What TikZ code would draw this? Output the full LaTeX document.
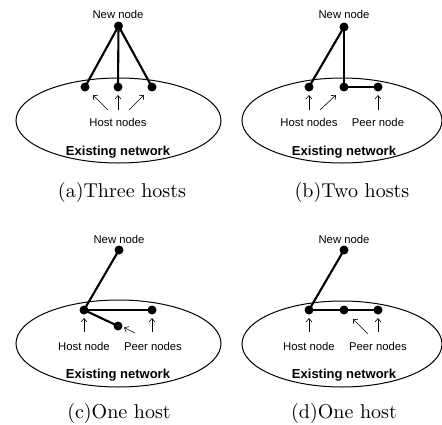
\documentclass[tikz,border=0pt]{standalone}
\usepackage{fontspec}
\setsansfont{Liberation Sans}
\newfontfamily\capfont{lmroman10-regular}[Extension=.otf]
\usetikzlibrary{arrows.meta}
\begin{document}
\begin{tikzpicture}[x=1pt,y=-1pt,
  dot/.style={circle,fill=black,inner sep=0pt,minimum size=9pt},
  link/.style={line width=2.1pt},
  net/.style={line width=1pt,black},
  lab/.style={font=\sffamily\fontsize{11.3}{13}\selectfont,inner sep=0pt},
  netlab/.style={font=\sffamily\bfseries\fontsize{13}{15}\selectfont,inner sep=0pt},
  captext/.style={font=\capfont\fontsize{20}{24}\selectfont,inner sep=0pt},
  ptr/.style={-{Straight Barb[length=3.5pt,width=6pt]},line width=0.6pt}]
\useasboundingbox (0,0) rectangle (442,424);

% ---------- (a) ----------
\draw[net] (118.5,120.5) ellipse [x radius=102.5, y radius=42.5];
\node[lab] (atxt) at (118,14) {New node};
\node[dot] (an) at (118.5,26) {};
\node[dot] (ah1) at (85,87) {};
\node[dot] (ah2) at (118,87) {};
\node[dot] (ah3) at (152,87) {};
\draw[link] (an.center) -- (ah1.center);
\draw[link] (an.center) -- (ah2.center);
\draw[link] (an.center) -- (ah3.center);
\coordinate (aa1s) at (108,110); \coordinate (aa1e) at (93,95);
\coordinate (aa2s) at (118,110); \coordinate (aa2e) at (118,95);
\coordinate (aa3s) at (129,110); \coordinate (aa3e) at (144,95);
\draw[ptr] (aa1s) -- (aa1e);
\draw[ptr] (aa2s) -- (aa2e);
\draw[ptr] (aa3s) -- (aa3e);
\node[lab] (ahl) at (118,122) {Host nodes};
\node[netlab] (anet) at (118,152) {Existing network};
\node[captext] (acap) at (122,192) {(a)Three hosts};

% ---------- (b) ----------
\draw[net] (342,120.5) ellipse [x radius=100, y radius=42.5];
\node[lab] (btxt) at (344,14) {New node};
\node[dot] (bn) at (344,27) {};
\node[dot] (bh1) at (309,87) {};
\node[dot] (bh2) at (344,87) {};
\node[dot] (bp) at (378,87) {};
\draw[link] (bn.center) -- (bh1.center);
\draw[link] (bn.center) -- (bh2.center);
\draw[link] (bh2.center) -- (bp.center);
\coordinate (ba1s) at (309,110); \coordinate (ba1e) at (309,95);
\coordinate (ba2s) at (320,110); \coordinate (ba2e) at (336,95);
\coordinate (ba3s) at (378,110); \coordinate (ba3e) at (378,95);
\draw[ptr] (ba1s) -- (ba1e);
\draw[ptr] (ba2s) -- (ba2e);
\draw[ptr] (ba3s) -- (ba3e);
\node[lab] (bhl) at (309,122) {Host nodes};
\node[lab] (bpl) at (378,122) {Peer node};
\node[netlab] (bnet) at (344,152) {Existing network};
\node[captext] (bcap) at (352,192) {(b)Two hosts};

% ---------- (c) ----------
\draw[net] (118.5,343.5) ellipse [x radius=102.5, y radius=43.5];
\node[lab] (ctxt) at (119,239) {New node};
\node[dot] (cn) at (119,250) {};
\node[dot] (ch) at (84,310) {};
\node[dot] (cp1) at (118,326) {};
\node[dot] (cp2) at (152,310) {};
\draw[link] (cn.center) -- (ch.center);
\draw[link] (ch.center) -- (cp2.center);
\draw[link] (ch.center) -- (cp1.center);
\coordinate (ca1s) at (84,332); \coordinate (ca1e) at (84,318);
\coordinate (ca2s) at (135,333); \coordinate (ca2e) at (124,327.5);
\coordinate (ca3s) at (152,332); \coordinate (ca3e) at (152,318);
\draw[ptr] (ca1s) -- (ca1e);
\draw[ptr] (ca2s) -- (ca2e);
\draw[ptr] (ca3s) -- (ca3e);
\node[lab] (chl) at (84,346) {Host node};
\node[lab] (cpl) at (153,346) {Peer nodes};
\node[netlab] (cnet) at (118,375) {Existing network};
\node[captext] (ccap) at (119,413) {(c)One host};

% ---------- (d) ----------
\draw[net] (342,344) ellipse [x radius=100, y radius=43];
\node[lab] (dtxt) at (344,239) {New node};
\node[dot] (dn) at (344,250) {};
\node[dot] (dh) at (309,310) {};
\node[dot] (dp1) at (344,310) {};
\node[dot] (dp2) at (378,310) {};
\draw[link] (dn.center) -- (dh.center);
\draw[link] (dh.center) -- (dp1.center);
\draw[link] (dp1.center) -- (dp2.center);
\coordinate (da1s) at (309,332); \coordinate (da1e) at (309,318);
\coordinate (da2s) at (368,334); \coordinate (da2e) at (353,319);
\coordinate (da3s) at (378,332); \coordinate (da3e) at (378,318);
\draw[ptr] (da1s) -- (da1e);
\draw[ptr] (da2s) -- (da2e);
\draw[ptr] (da3s) -- (da3e);
\node[lab] (dhl) at (309,346) {Host node};
\node[lab] (dpl) at (378,346) {Peer nodes};
\node[netlab] (dnet) at (344,375) {Existing network};
\node[captext] (dcap) at (344,413) {(d)One host};
\end{tikzpicture}
\end{document}
